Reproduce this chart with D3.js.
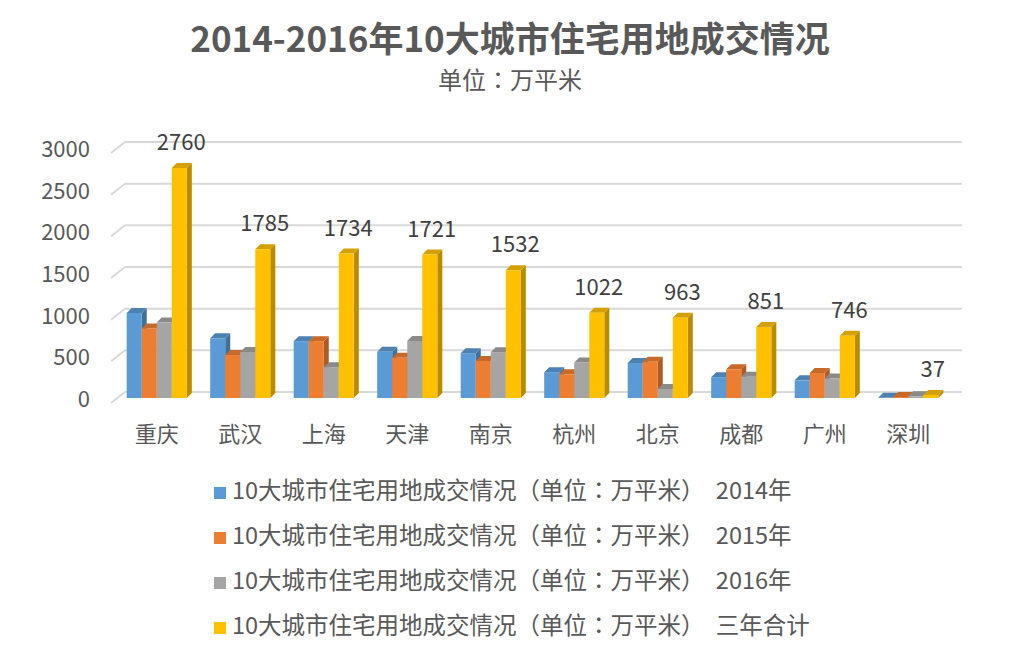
<!DOCTYPE html>
<html><head><meta charset="utf-8">
<script src="https://cdn.jsdelivr.net/npm/d3@7"></script>
<style>body{margin:0;background:#fff;} text{font-family:"Noto Sans CJK SC","Noto Sans",sans-serif;}</style>
</head><body>
<svg id="chart" width="1017" height="646"></svg>
<script>
const cities = ["重庆","武汉","上海","天津","南京","杭州","北京","成都","广州","深圳"];
const v2014 = [1020, 717, 682, 555, 538, 310, 421, 250, 212, 4];
const v2015 = [835, 516, 682, 482, 444, 285, 434, 345, 300, 13];
const v2016 = [905, 552, 370, 684, 550, 427, 108, 256, 234, 20];
const vTotal = [2760, 1785, 1734, 1721, 1532, 1022, 963, 851, 746, 37];
const yTicks = [0, 500, 1000, 1500, 2000, 2500, 3000];
const seriesPrefix = "10大城市住宅用地成交情况（单位";
const seriesMid = "万平米）";
const seriesSuffix = [" 2014年", " 2015年", " 2016年", " 三年合计"];
const colors = ["#5B9BD5","#ED7D31","#A5A5A5","#FFC000"];

const svg = d3.select("#chart");
const textColor = "#595959";

const x = d3.scaleBand().domain(cities).range([115, 950]).paddingInner(0.28).paddingOuter(0.14);
const y = d3.scaleLinear().domain([0, 3000]).range([398, 148]);
const series = [v2014, v2015, v2016, vTotal];
const xs = d3.scaleBand().domain([0,1,2,3]).range([0, x.bandwidth()]);

const gy = v => y(v) - 6;

// gridlines (back wall) + left diagonal
const grid = svg.append("g");
yTicks.forEach(t => {
  grid.append("line").attr("x1", 125).attr("x2", 962).attr("y1", gy(t)).attr("y2", gy(t))
    .attr("stroke", "#D9D9D9").attr("stroke-width", 2);
  grid.append("line").attr("x1", 111).attr("x2", 125).attr("y1", gy(t) + 11).attr("y2", gy(t))
    .attr("stroke", "#D9D9D9").attr("stroke-width", 2);
});

// y axis labels
svg.append("g").selectAll("text").data(yTicks).join("text")
  .attr("x", 90).attr("y", d => y(d) + 3).attr("text-anchor", "end").attr("dominant-baseline", "middle")
  .attr("font-size", 22).attr("fill", textColor).text(d => d);

// bars
const bd = 5;
const barG = svg.append("g");
cities.forEach((c, i) => {
  series.forEach((s, k) => {
    const v = s[i];
    const x0 = x(c) + xs(k), w = xs.bandwidth();
    const yt = y(v), yb = y(0);
    const col = d3.color(colors[k]);
    barG.append("path").attr("d", `M${x0+w},${yb} L${x0+w+bd},${yb-bd} L${x0+w+bd},${yt-bd} L${x0+w},${yt} Z`)
      .attr("fill", col.darker(0.9));
    barG.append("path").attr("d", `M${x0},${yt} L${x0+bd},${yt-bd} L${x0+w+bd},${yt-bd} L${x0+w},${yt} Z`)
      .attr("fill", col.darker(0.5));
    barG.append("rect").attr("x", x0).attr("y", yt).attr("width", w).attr("height", Math.max(0, yb - yt))
      .attr("fill", col);
  });
});

// data labels for totals
svg.append("g").selectAll("text").data(cities).join("text")
  .attr("x", (c) => x(c) + xs(3) + xs.bandwidth()/2 + 2)
  .attr("y", (c, i) => y(vTotal[i]) - 18)
  .attr("text-anchor", "middle").attr("font-size", 22).attr("fill", "#404040")
  .text((c, i) => vTotal[i]);

// category labels
svg.append("g").selectAll("text").data(cities).join("text")
  .attr("x", c => x(c) + x.bandwidth()/2).attr("y", 442)
  .attr("text-anchor", "middle").attr("font-size", 22).attr("fill", textColor).text(c => c);

// title
svg.append("text").attr("x", 510).attr("y", 52).attr("text-anchor", "middle")
  .attr("font-size", 35).attr("font-weight", "bold").attr("fill", textColor)
  .text("2014-2016年10大城市住宅用地成交情况");
const sub = svg.append("text").attr("x", 510).attr("y", 89).attr("text-anchor", "middle")
  .attr("font-size", 24).attr("fill", textColor);
sub.append("tspan").text("单位");
sub.append("tspan").style("font-family", '"Noto Sans CJK TC"').text("：");
sub.append("tspan").text("万平米");

// legend
const lg = svg.append("g");
seriesSuffix.forEach((sfx, k) => {
  const ly = 493 + k * 45;
  lg.append("rect").attr("x", 214).attr("y", ly - 6).attr("width", 12).attr("height", 12).attr("fill", colors[k]);
  const t = lg.append("text").attr("x", 232).attr("y", ly).attr("dominant-baseline", "middle")
    .attr("font-size", 23.5).attr("fill", textColor);
  t.append("tspan").text(seriesPrefix);
  t.append("tspan").style("font-family", '"Noto Sans CJK TC"').text("：");
  t.append("tspan").text(seriesMid);
  t.append("tspan").attr("dx", 6).text(sfx);
});
</script>
</body></html>
